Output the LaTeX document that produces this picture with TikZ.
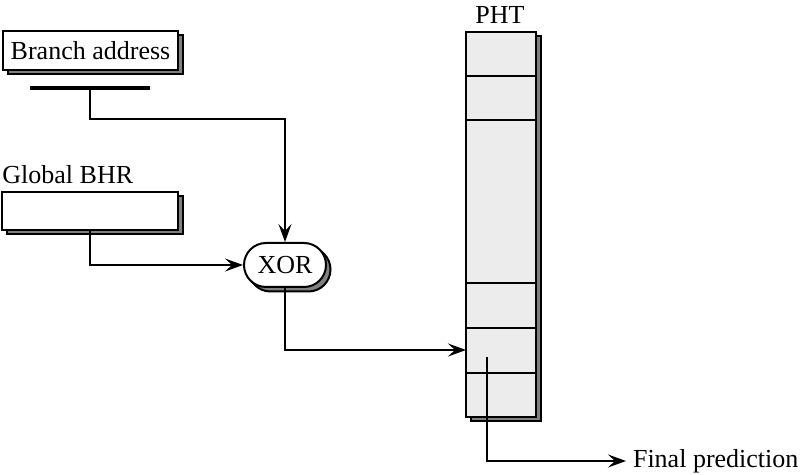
\documentclass[tikz,border=0pt]{standalone}
\usepackage{fontspec}
\setmainfont{Liberation Serif}
\usetikzlibrary{arrows.meta,shadows,shapes.misc}

\begin{document}
\begin{tikzpicture}[x=0.5pt,y=-0.5pt,
  font=\fontsize{13}{15}\selectfont,
  box/.style={draw,line width=1pt,fill=white,inner sep=0pt,
    drop shadow={shadow xshift=2.25pt,shadow yshift=-2.25pt,fill=gray,draw=black,opacity=1}},
  wire/.style={line width=1pt,-{Stealth[length=9pt,width=6.5pt,inset=3.5pt]}}]
  \useasboundingbox (0,0) rectangle (800,475);

  \node[box,minimum width=87.5pt,minimum height=19.5pt] (addr) at (90.5,50.5) {Branch address};
  \node[fill,inner sep=0pt,minimum width=60pt,minimum height=2pt] (bar) at (90,88) {};
  \node[anchor=west,inner sep=0pt] (bhrlabel) at (2,175) {Global BHR};
  \node[box,minimum width=88pt,minimum height=19pt] (bhr) at (90,211) {};
  \node[box,rounded rectangle,minimum width=41pt,minimum height=22pt] (xor) at (285,265) {XOR};

  \node[box,fill=gray!15,minimum width=35pt,minimum height=192.5pt] (pht) at (501,224.5) {};
  \node (phtlabel) at (500,15) {PHT};
  \foreach \y in {76,120,283,328,373}
    \draw[line width=1pt] (466,\y) -- (536,\y);
  \coordinate (pin) at (466,350);
  \coordinate (pout) at (487,357);
  \node[anchor=west] (final) at (626,461) {Final prediction};

  \draw[wire] (bar.south) -- ++(0,29) -| (xor.north);
  \draw[wire] (bhr.south) |- (xor.west);
  \draw[wire] (xor.south) |- (pin);
  \draw[wire] (pout) |- (final.west);
\end{tikzpicture}
\end{document}
